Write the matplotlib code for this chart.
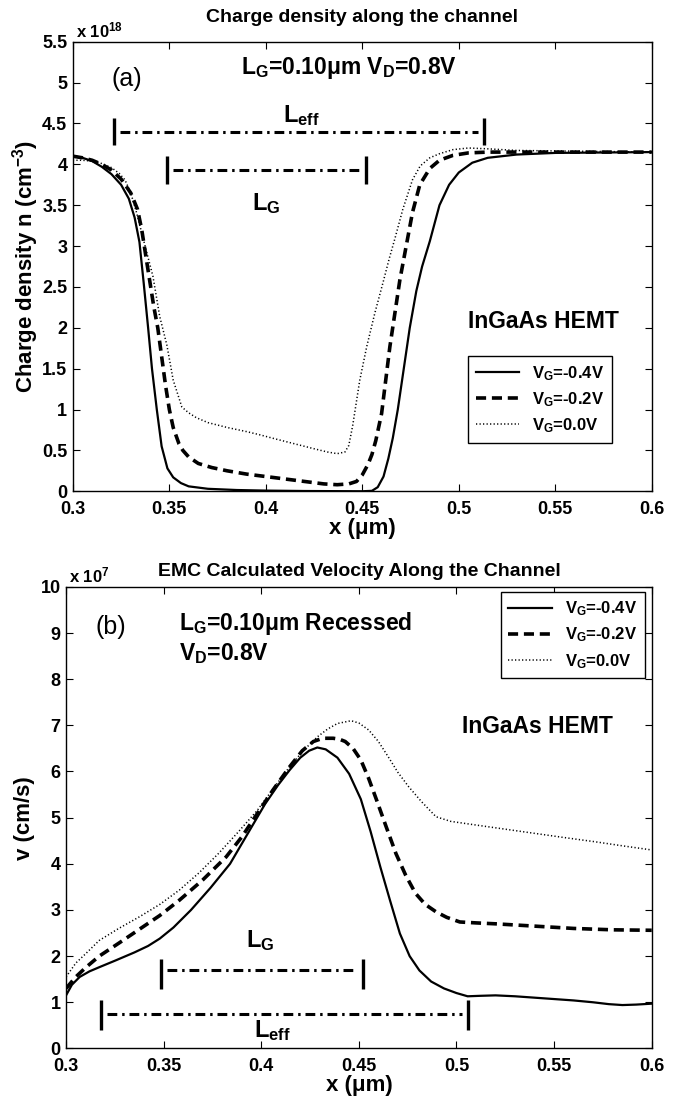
import matplotlib
matplotlib.use("Agg")
import matplotlib.pyplot as plt
from matplotlib.ticker import FixedLocator, FuncFormatter

plt.rcParams['font.family'] = ['Liberation Sans', 'DejaVu Sans']
plt.rcParams['mathtext.fontset'] = 'custom'
plt.rcParams['mathtext.rm'] = 'Liberation Sans:bold'
plt.rcParams['mathtext.bf'] = 'Liberation Sans:bold'
plt.rcParams['mathtext.it'] = 'Liberation Sans:bold'
plt.rcParams['mathtext.default'] = 'bf'

# ---------------- Data: panel (a) charge density (units of 1e18 cm^-3) -------------
xa_m04 = [0.300, 0.305, 0.310, 0.315, 0.320, 0.325, 0.329, 0.332, 0.3345, 0.3367, 0.339,
          0.341, 0.3435, 0.346, 0.349, 0.352, 0.356, 0.360, 0.370, 0.385, 0.400, 0.420,
          0.450, 0.455, 0.458, 0.461, 0.4635, 0.4658, 0.4684, 0.4715, 0.4746, 0.478, 0.481,
          0.485, 0.490, 0.495, 0.500, 0.507, 0.515, 0.530, 0.550, 0.600]
na_m04 = [4.10, 4.08, 4.04, 3.97, 3.88, 3.75, 3.58, 3.35, 3.05, 2.55, 2.00,
          1.50, 1.00, 0.55, 0.28, 0.17, 0.10, 0.06, 0.03, 0.015, 0.008, 0.003,
          0.0, 0.005, 0.05, 0.18, 0.40, 0.65, 1.00, 1.50, 2.00, 2.45, 2.75,
          3.06, 3.50, 3.75, 3.90, 4.02, 4.08, 4.12, 4.14, 4.15]

xa_m02 = [0.300, 0.305, 0.310, 0.315, 0.320, 0.325, 0.330, 0.3335, 0.3357, 0.338, 0.340,
          0.342, 0.344, 0.346, 0.348, 0.350, 0.352, 0.355, 0.357, 0.360, 0.365, 0.372,
          0.380, 0.390, 0.400, 0.410, 0.420, 0.430, 0.437, 0.443, 0.447, 0.450, 0.453,
          0.455, 0.457, 0.460, 0.4643, 0.4695, 0.476, 0.4798, 0.485,
          0.490, 0.497, 0.505, 0.515, 0.540, 0.600]
na_m02 = [4.10, 4.08, 4.05, 4.00, 3.93, 3.82, 3.65, 3.45, 3.20, 2.85, 2.55,
          2.25, 2.00, 1.65, 1.30, 1.00, 0.78, 0.58, 0.50, 0.42, 0.34, 0.29,
          0.25, 0.21, 0.18, 0.15, 0.12, 0.09, 0.08, 0.09, 0.12, 0.20, 0.33,
          0.45, 0.62, 0.95, 1.77, 2.59, 3.41, 3.75, 3.95,
          4.05, 4.11, 4.14, 4.15, 4.15, 4.15]

xa_00 = [0.300, 0.305, 0.310, 0.315, 0.320, 0.324, 0.327, 0.330, 0.333, 0.337, 0.3415,
         0.345, 0.3487, 0.352, 0.3565, 0.360, 0.364, 0.370, 0.380, 0.390, 0.397,
         0.405, 0.415, 0.425, 0.432, 0.437, 0.441, 0.443, 0.445, 0.4487, 0.4523, 0.4565,
         0.4607, 0.464, 0.467, 0.471, 0.476, 0.480, 0.485, 0.490, 0.497, 0.505, 0.515,
         0.530, 0.600]
na_00 = [4.05, 4.05, 4.04, 4.01, 3.96, 3.89, 3.81, 3.65, 3.41, 3.04, 2.63,
         2.14, 1.79, 1.36, 1.03, 0.96, 0.90, 0.84, 0.78, 0.73, 0.69,
         0.64, 0.58, 0.52, 0.48, 0.46, 0.48, 0.56, 0.80, 1.36, 1.77, 2.18,
         2.55, 2.85, 3.10, 3.45, 3.81, 3.98, 4.08, 4.13, 4.18, 4.20, 4.19,
         4.17, 4.15]

# ---------------- Data: panel (b) velocity (units of 1e7 cm/s) ----------------------
xb_m04 = [0.300, 0.303, 0.307, 0.312, 0.317, 0.325, 0.335, 0.342, 0.348, 0.355, 0.364,
          0.374, 0.384, 0.393, 0.402, 0.4085, 0.4145, 0.420, 0.4245, 0.4287, 0.433,
          0.439, 0.445, 0.451, 0.456, 0.461, 0.466, 0.471, 0.476, 0.481, 0.487, 0.4936,
          0.500, 0.5057, 0.512, 0.520, 0.530, 0.540, 0.550, 0.560, 0.570, 0.578, 0.585,
          0.592, 0.600]
vb_m04 = [1.15, 1.38, 1.55, 1.67, 1.76, 1.90, 2.08, 2.22, 2.38, 2.62, 3.00,
          3.48, 4.00, 4.65, 5.30, 5.70, 6.03, 6.30, 6.45, 6.52, 6.48,
          6.30, 5.95, 5.40, 4.70, 3.93, 3.20, 2.49, 2.00, 1.69, 1.45, 1.30,
          1.20, 1.13, 1.14, 1.15, 1.13, 1.10, 1.07, 1.04, 1.00, 0.96, 0.94,
          0.95, 0.97]

xb_m02 = [0.300, 0.305, 0.310, 0.317, 0.327, 0.3375, 0.348, 0.358, 0.370, 0.382, 0.390,
          0.398, 0.406, 0.4145, 0.421, 0.4267, 0.4315, 0.4368, 0.440, 0.443, 0.447,
          0.451, 0.455, 0.459, 0.464, 0.469, 0.474, 0.479, 0.484, 0.4895, 0.495,
          0.5017, 0.510, 0.520, 0.540, 0.560, 0.580, 0.600]
vb_m02 = [1.30, 1.55, 1.75, 2.00, 2.28, 2.58, 2.88, 3.21, 3.65, 4.15, 4.58,
          5.09, 5.60, 6.10, 6.45, 6.65, 6.72, 6.72, 6.70, 6.65, 6.50,
          6.25, 5.85, 5.39, 4.80, 4.22, 3.75, 3.36, 3.12, 2.96, 2.84,
          2.74, 2.72, 2.70, 2.65, 2.60, 2.57, 2.56]

xb_00 = [0.300, 0.305, 0.310, 0.317, 0.327, 0.3375, 0.348, 0.358, 0.368, 0.378, 0.388,
         0.398, 0.406, 0.4145, 0.4215, 0.4287, 0.434, 0.439, 0.446, 0.450, 0.455,
         0.460, 0.465, 0.470, 0.4755, 0.482, 0.4895, 0.497, 0.510, 0.525, 0.540,
         0.555, 0.5706, 0.585, 0.600]
vb_00 = [1.55, 1.85, 2.05, 2.34, 2.60, 2.85, 3.12, 3.43, 3.80, 4.22, 4.68,
         5.16, 5.62, 6.10, 6.45, 6.75, 6.92, 7.04, 7.10, 7.05, 6.90,
         6.65, 6.32, 5.98, 5.67, 5.35, 5.02, 4.92, 4.84, 4.75, 4.66,
         4.57, 4.48, 4.39, 4.30]

legend_labels = ['V$_G$=-0.4V', 'V$_G$=-0.2V', 'V$_G$=0.0V']

# annotation bars (x start, x end, y) in data units
a_leff = (0.3215, 0.513, 4.40)
a_lg = (0.349, 0.452, 3.93)
b_lg = (0.3487, 0.452, 1.69)
b_leff = (0.318, 0.506, 0.75)

xticks = [0.3, 0.35, 0.4, 0.45, 0.5, 0.55, 0.6]
a_yticks = [0, 0.5, 1, 1.5, 2, 2.5, 3, 3.5, 4, 4.5, 5, 5.5]
b_yticks = [0, 1, 2, 3, 4, 5, 6, 7, 8, 9, 10]

fig = plt.figure(figsize=(6.81, 10.99), dpi=100)
ax1 = fig.add_axes([0.107, 0.553, 0.850, 0.409])
ax2 = fig.add_axes([0.097, 0.046, 0.860, 0.420])

def fmt(v, pos):
    return '%g' % v

ls_solid = dict(color='black', linewidth=1.6, linestyle='-')
ls_dash = dict(color='black', linewidth=2.6, linestyle=(0, (2.8, 1.6)))
ls_dot = dict(color='black', linewidth=1.1, linestyle=(0, (0.8, 1.5)))

for ax in (ax1, ax2):
    ax.set_xlim(0.3, 0.6)
    ax.xaxis.set_major_locator(FixedLocator(xticks))
    ax.xaxis.set_major_formatter(FuncFormatter(fmt))
    ax.yaxis.set_major_formatter(FuncFormatter(fmt))
    ax.tick_params(direction='in', top=True, right=True, length=5, width=0.8,
                   labelsize=13, pad=4)
    ax.tick_params(axis='x', pad=7)
    for sp in ax.spines.values():
        sp.set_linewidth(1.0)
    ax.set_xlabel('x (\u03bcm)', fontsize=16, fontweight='bold', labelpad=0)

def bar(ax, x0, x1, y, h0, h1):
    ax.plot([x0 + 0.003, x1 - 0.003], [y, y], color='black', linewidth=2.2,
            linestyle=(0, (3.2, 1.6, 0.8, 1.6)))
    ax.plot([x0, x0], [y - h0, y + h1], color='black', linewidth=2.4, solid_capstyle='butt')
    ax.plot([x1, x1], [y - h0, y + h1], color='black', linewidth=2.4, solid_capstyle='butt')

leg_kw = dict(fancybox=False, edgecolor='black', framealpha=1,
              prop={'weight': 'bold', 'size': 12}, handlelength=2.6,
              borderaxespad=0, labelspacing=0.45, borderpad=0.45, handletextpad=0.8)

# ---------------- panel (a) ----------------
ax1.set_ylim(0, 5.5)
ax1.yaxis.set_major_locator(FixedLocator(a_yticks))
l1, = ax1.plot(xa_m04, na_m04, **ls_solid)
l2, = ax1.plot(xa_m02, na_m02, **ls_dash)
l3, = ax1.plot(xa_00, na_00, **ls_dot)
ax1.set_title('Charge density along the channel', fontsize=14, fontweight='bold', pad=14)
ax1.set_ylabel('Charge density n (cm$^{-3}$)', fontsize=16, fontweight='bold', labelpad=1)
ax1.text(0.005, 1.004, 'x 10$^{18}$', transform=ax1.transAxes, fontsize=12,
         ha='left', va='bottom', fontweight='bold')
ax1.text(0.320, 5.05, '(a)', fontsize=18, ha='left', va='center', fontweight='normal')
ax1.text(0.387, 5.10, 'L$_G$=0.10\u03bcm V$_D$=0.8V', fontsize=16.5, ha='left',
         va='baseline', fontweight='bold')
ax1.text(0.409, 4.52, 'L$_{eff}$', fontsize=17, ha='left', va='baseline', fontweight='bold')
ax1.text(0.3927, 3.44, 'L$_G$', fontsize=17, ha='left', va='baseline', fontweight='bold')
ax1.text(0.505, 2.08, 'InGaAs HEMT', fontsize=16.5, ha='left', va='center', fontweight='bold')
bar(ax1, a_leff[0], a_leff[1], a_leff[2], 0.16, 0.17)
bar(ax1, a_lg[0], a_lg[1], a_lg[2], 0.17, 0.17)
leg1 = ax1.legend([l1, l2, l3], legend_labels, loc='upper right',
                  bbox_to_anchor=(0.931, 0.30), **leg_kw)
leg1.get_frame().set_linewidth(1.0)

# ---------------- panel (b) ----------------
ax2.set_ylim(0, 10)
ax2.yaxis.set_major_locator(FixedLocator(b_yticks))
m1, = ax2.plot(xb_m04, vb_m04, **ls_solid)
m2, = ax2.plot(xb_m02, vb_m02, **ls_dash)
m3, = ax2.plot(xb_00, vb_00, **ls_dot)
ax2.set_title('EMC Calculated Velocity Along the Channel', fontsize=14, fontweight='bold', pad=8)
ax2.set_ylabel('v (cm/s)', fontsize=16, fontweight='bold', labelpad=4)
ax2.text(0.005, 1.004, 'x 10$^{7}$', transform=ax2.transAxes, fontsize=12,
         ha='left', va='bottom', fontweight='bold')
ax2.text(0.3152, 9.12, '(b)', fontsize=18, ha='left', va='center', fontweight='normal')
ax2.text(0.358, 9.07, 'L$_G$=0.10\u03bcm Recessed', fontsize=16.5, ha='left', va='baseline',
         fontweight='bold')
ax2.text(0.358, 8.42, 'V$_D$=0.8V', fontsize=16.5, ha='left', va='baseline', fontweight='bold')
ax2.text(0.503, 6.83, 'InGaAs HEMT', fontsize=16.5, ha='left', va='baseline', fontweight='bold')
ax2.text(0.3923, 2.20, 'L$_G$', fontsize=17, ha='left', va='baseline', fontweight='bold')
ax2.text(0.3963, 0.245, 'L$_{eff}$', fontsize=17, ha='left', va='baseline', fontweight='bold')
bar(ax2, b_lg[0], b_lg[1], b_lg[2], 0.40, 0.25)
bar(ax2, b_leff[0], b_leff[1], b_leff[2], 0.36, 0.30)
leg2 = ax2.legend([m1, m2, m3], legend_labels, loc='upper right',
                  bbox_to_anchor=(0.988, 0.989), **leg_kw)
leg2.get_frame().set_linewidth(1.0)

for ax in (ax1, ax2):
    for lab in ax.get_xticklabels() + ax.get_yticklabels():
        lab.set_fontweight('bold')

fig.savefig('out.png', dpi=100)
